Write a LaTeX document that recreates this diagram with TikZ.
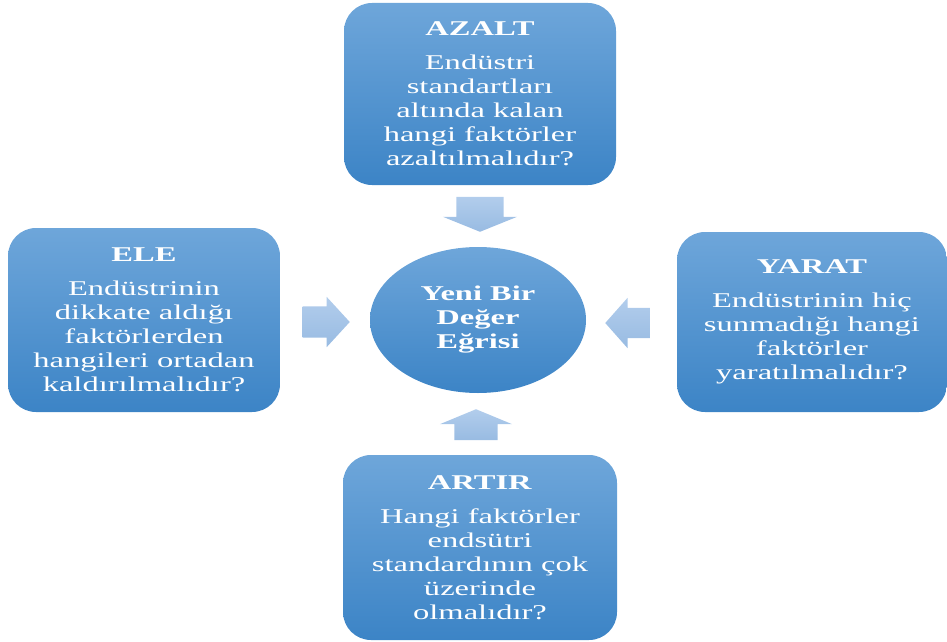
\documentclass[tikz,border=0pt]{standalone}
\usepackage{fontspec}
\setmainfont{Liberation Serif}[FakeStretch=1.55]
\usetikzlibrary{shapes.geometric,shapes.arrows}

\definecolor{boxtop}{RGB}{110,166,218}
\definecolor{boxbot}{RGB}{60,132,198}
\definecolor{arrowtop}{RGB}{178,205,236}
\definecolor{arrowbot}{RGB}{152,187,226}

\tikzset{
  question/.style={rectangle, rounded corners=28pt, top color=boxtop, bottom color=boxbot,
    text=white, align=center, inner sep=0pt, minimum width=272pt, minimum height=182pt,
    font=\fontsize{21}{24}\selectfont},
  curve/.style={ellipse, top color=boxtop, bottom color=boxbot, text=white, align=center,
    inner sep=0pt, minimum width=216pt, minimum height=146pt,
    font=\fontsize{21}{24}\selectfont\bfseries},
  blockarrow/.style={single arrow, draw=none, top color=arrowtop, bottom color=arrowbot,
    minimum width=0pt, anchor=tip},
  % shaft half width goes in inner ysep, or inner xsep when turned up or down
  flatarrow/.style={blockarrow, inner xsep=0pt, inner ysep=#1},
  standarrow/.style={blockarrow, inner ysep=0pt, inner xsep=#1}
}

\begin{document}
\begin{tikzpicture}[x=1pt,y=-1pt]
        \useasboundingbox (0,0) rectangle (947,642);

        % Centre
        \node[curve] (egri) at (478,320) {Yeni Bir\\Değer\\Eğrisi};

        % Four questions
        \node[question] (azalt) at (480,94) {\textbf{AZALT}\\[10pt]Endüstri\\standartları\\altında kalan\\hangi faktörler\\azaltılmalıdır?};
        \node[question, minimum height=184pt] (ele) at (144,320) {\textbf{ELE}\\[10pt]Endüstrinin\\dikkate aldığı\\faktörlerden\\hangileri ortadan\\kaldırılmalıdır?};
        \node[question, minimum width=270pt, minimum height=180pt] (yarat) at (812,322) {\textbf{YARAT}\\[10pt]Endüstrinin hiç\\sunmadığı hangi\\faktörler\\yaratılmalıdır?};
        \node[question, minimum width=274pt, minimum height=185pt] (artir) at (480,547.5) {\textbf{ARTIR}\\[10pt]Hangi faktörler\\endsütri\\standardının çok\\üzerinde\\olmalıdır?};

        % Block arrows (placed by their tips)
        \node[standarrow=23.5pt, shape border rotate=270, minimum height=35pt,
          single arrow head extend=13.5pt, single arrow tip angle=136] (okazalt) at (480,232) {};
        \node[standarrow=21.5pt, shape border rotate=90, minimum height=31pt,
          single arrow head extend=14.5pt, single arrow tip angle=135] (okartir) at (476,409) {};
        \node[flatarrow=15.5pt, minimum height=47pt,
          single arrow head extend=9.5pt, single arrow tip angle=95] (okele) at (350,322) {};
        \node[flatarrow=15pt, shape border rotate=180, minimum height=45pt,
          single arrow head extend=10pt, single arrow tip angle=97] (okyarat) at (605,323) {};

\end{tikzpicture}
\end{document}
